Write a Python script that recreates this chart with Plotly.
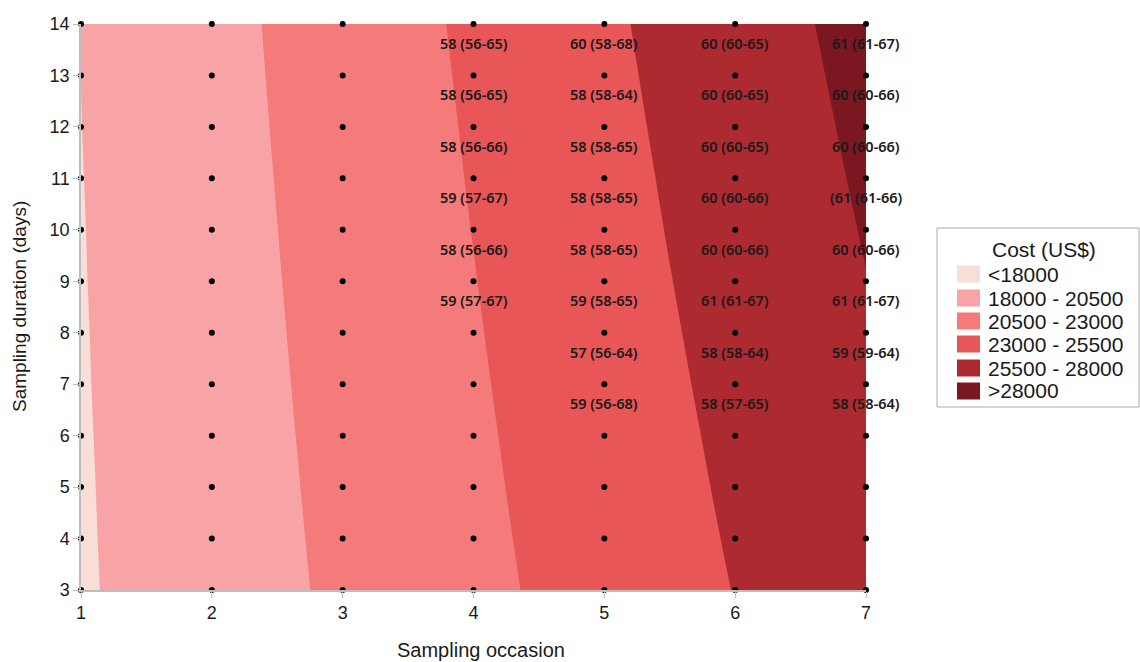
import plotly.graph_objects as go

# ---------------- data ----------------
occasions = [1, 2, 3, 4, 5, 6, 7]
durations = [3, 4, 5, 6, 7, 8, 9, 10, 11, 12, 13, 14]

# estimated cost (US$) at each grid point; rows = durations, cols = occasions
cost = [
    [17775, 19330, 20885, 22440, 24000, 25550, 27100],  # 3
    [17800, 19375, 20950, 22525, 24105, 25675, 27245],  # 4
    [17820, 19420, 21015, 22610, 24210, 25800, 27390],  # 5
    [17845, 19465, 21080, 22695, 24310, 25920, 27535],  # 6
    [17870, 19510, 21145, 22780, 24415, 26045, 27680],  # 7
    [17890, 19555, 21210, 22865, 24520, 26170, 27825],  # 8
    [17915, 19600, 21275, 22950, 24625, 26295, 27965],  # 9
    [17935, 19645, 21340, 23035, 24730, 26420, 28110],  # 10
    [17960, 19690, 21405, 23120, 24830, 26540, 28255],  # 11
    [17985, 19735, 21470, 23200, 24935, 26665, 28400],  # 12
    [18005, 19780, 21535, 23285, 25040, 26790, 28545],  # 13
    [18030, 19825, 21600, 23370, 25145, 26920, 28690],  # 14
]

band_labels = ["<18000", "18000 - 20500", "20500 - 23000",
               "23000 - 25500", "25500 - 28000", ">28000"]
band_colors = ["#f9ddd7", "#f8a4a6", "#f57b7b", "#e95657", "#ad2a31", "#7b1720"]
legend_title = "Cost (US$)"

# labels: (occasion, duration, text)
label_x = [4, 4, 4, 4, 4, 4,
           5, 5, 5, 5, 5, 5, 5, 5,
           6, 6, 6, 6, 6, 6, 6, 6,
           7, 7, 7, 7, 7, 7, 7, 7]
label_y = [14, 13, 12, 11, 10, 9,
           14, 13, 12, 11, 10, 9, 8, 7,
           14, 13, 12, 11, 10, 9, 8, 7,
           14, 13, 12, 11, 10, 9, 8, 7]
label_text = ["58 (56-65)", "58 (56-65)", "58 (56-66)", "59 (57-67)", "58 (56-66)", "59 (57-67)",
              "60 (58-68)", "58 (58-64)", "58 (58-65)", "58 (58-65)", "58 (58-65)", "59 (58-65)", "57 (56-64)", "59 (56-68)",
              "60 (60-65)", "60 (60-65)", "60 (60-65)", "60 (60-66)", "60 (60-66)", "61 (61-67)", "58 (58-64)", "58 (57-65)",
              "61 (61-67)", "60 (60-66)", "60 (60-66)", "(61 (61-66)", "60 (60-66)", "61 (61-67)", "59 (59-64)", "58 (58-64)"]

# ---------------- layout geometry (pixels) ----------------
W, H = 1140, 662
PL, PR, PT, PB = 81, 866, 24, 590
PW, PH = PR - PL, PB - PT


def px(xpix):
    return (xpix - PL) / PW


def py(ypix):
    return (PB - ypix) / PH


FONT = "Arial, Liberation Sans, sans-serif"
TXT = "#1a1a1a"

fig = go.Figure()

n = len(band_colors)
colorscale = [[i / (n - 1), c] for i, c in enumerate(band_colors)]

fig.add_trace(go.Contour(
    x=occasions, y=durations, z=cost,
    colorscale=colorscale,
    contours=dict(start=18000, end=28000, size=2500, coloring="fill", showlines=False),
    line=dict(width=0),
    showscale=False, showlegend=False, hoverinfo="skip",
))

# grid dots
gx, gy = [], []
for d in durations:
    for o in occasions:
        gx.append(o)
        gy.append(d)
fig.add_trace(go.Scatter(x=gx, y=gy, mode="markers",
                         marker=dict(color="black", size=6),
                         showlegend=False, hoverinfo="skip", cliponaxis=False))

for x, y, t in zip(label_x, label_y, label_text):
    fig.add_annotation(x=x, y=y, text=t, showarrow=False, yshift=-19,
                       xanchor="center", yanchor="middle",
                       font=dict(family="Noto Sans", size=14.5, color=TXT, weight=600))

# axis titles
fig.add_annotation(xref="paper", yref="paper", x=px(481), y=py(650), text="Sampling occasion",
                   xanchor="center", yanchor="middle",
                   showarrow=False, font=dict(family=FONT, size=20, color=TXT))
fig.add_annotation(xref="paper", yref="paper", x=px(19), y=py(307), text="Sampling duration (days)",
                   xanchor="center", yanchor="middle",
                   textangle=-90, showarrow=False, font=dict(family=FONT, size=19, color=TXT))

# manual legend
shapes = [dict(type="rect", xref="paper", yref="paper",
               x0=px(937), x1=px(1139), y0=py(407), y1=py(228),
               line=dict(color="#aaaaaa", width=1), fillcolor="white", layer="above")]
fig.add_annotation(xref="paper", yref="paper", x=px(1044), y=py(249), text=legend_title,
                   xanchor="center", yanchor="middle",
                   showarrow=False, font=dict(family=FONT, size=21, color=TXT))
row_y = [274, 298, 321, 344, 368, 391]
for lab, col, ry in zip(band_labels, band_colors, row_y):
    shapes.append(dict(type="rect", xref="paper", yref="paper",
                       x0=px(957), x1=px(980), y0=py(ry + 8.5), y1=py(ry - 8.5),
                       line=dict(width=0), fillcolor=col, layer="above"))
    fig.add_annotation(xref="paper", yref="paper", x=px(986), y=py(ry), text=lab,
                       xanchor="left", yanchor="middle", showarrow=False,
                       font=dict(family=FONT, size=21, color=TXT))

axis_common = dict(showgrid=False, zeroline=False, showline=True, linecolor="#bdbdbd",
                   linewidth=1.5, ticks="outside", ticklen=6, tickcolor="#bdbdbd",
                   tickfont=dict(family=FONT, size=18, color=TXT))

fig.update_layout(
    width=W, height=H,
    margin=dict(l=PL, r=W - PR, t=PT, b=H - PB),
    paper_bgcolor="white", plot_bgcolor="white",
    xaxis=dict(range=[1, 7], tickvals=occasions, **axis_common),
    yaxis=dict(range=[3, 14], tickvals=durations, **axis_common),
    shapes=shapes,
    showlegend=False,
)

fig.write_html("out.html")
